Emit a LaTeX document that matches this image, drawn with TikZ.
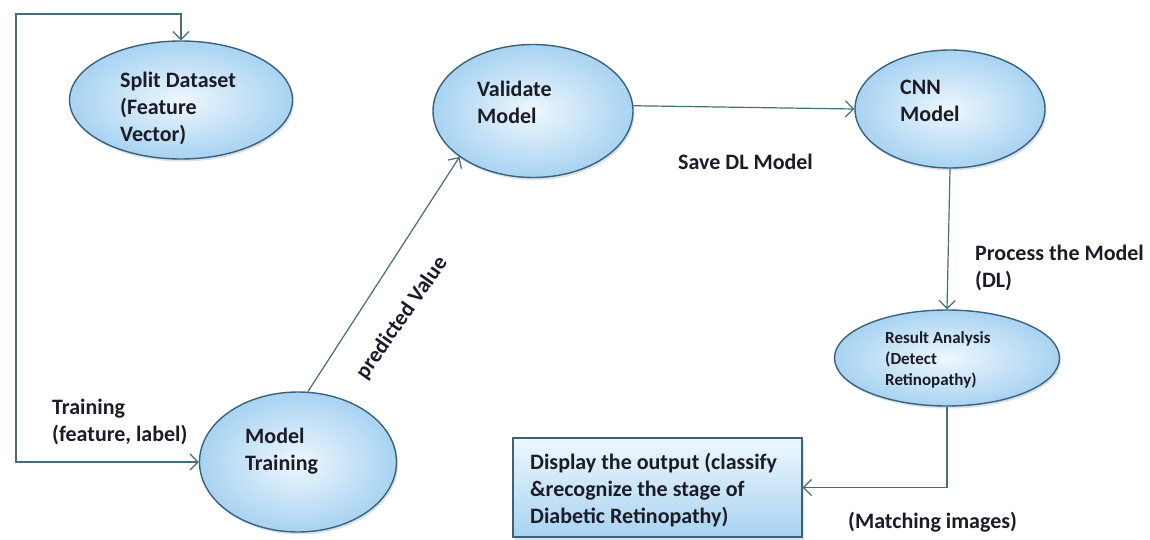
\documentclass[tikz,border=0pt]{standalone}
\usepackage{fontspec}
\setmainfont{Carlito}
\usetikzlibrary{shapes.geometric,arrows.meta,shadows}
\definecolor{edgec}{RGB}{58,98,122}
\definecolor{fillo}{RGB}{168,211,242}
\definecolor{filli}{RGB}{238,247,253}
\definecolor{linec}{RGB}{72,108,122}
\definecolor{txtc}{RGB}{28,28,40}
\begin{document}
\begin{tikzpicture}[x=1pt,y=-1pt,
  oval/.style={ellipse, draw=edgec, line width=1.4pt, inner color=filli, outer color=fillo,
    drop shadow={opacity=0.18, shadow xshift=1.5pt, shadow yshift=-2.5pt, fill=edgec}, inner sep=0pt},
  outbox/.style={rectangle, draw=edgec, line width=1.4pt, top color=filli, bottom color=fillo, inner sep=0pt,
    drop shadow={opacity=0.18, shadow xshift=1.5pt, shadow yshift=-2.5pt, fill=edgec}},
  lab/.style={font=\bfseries\fontsize{22}{27}\selectfont, text=txtc, align=left, inner sep=0pt},
  small/.style={font=\bfseries\fontsize{17}{21}\selectfont, text=txtc, align=left, inner sep=0pt},
  conn/.style={draw=linec, line width=1.2pt, -{Straight Barb[length=8pt,width=16pt,line width=1.2pt]}},
  conn2/.style={draw=linec, line width=1.2pt, {Straight Barb[length=8pt,width=16pt,line width=1.2pt]}-{Straight Barb[length=8pt,width=16pt,line width=1.2pt]}}]
\fill[white] (0,0) rectangle (1150,540);
\useasboundingbox (0,0) rectangle (1150,540);

% shapes
\node[oval, minimum width=223pt, minimum height=118pt] (split) at (181,100) {};
\node[oval, minimum width=197pt, minimum height=140pt] (mt) at (298,462) {};
\node[oval, minimum width=200pt, minimum height=133pt] (val) at (533,111) {};
\node[oval, minimum width=190pt, minimum height=118pt] (cnn) at (950,109) {};
\node[oval, minimum width=225pt, minimum height=96pt] (res) at (947,358) {};
\node[outbox, minimum width=289pt, minimum height=99pt] (out) at (657.5,487.5) {};

% texts in shapes
\node[lab, anchor=west] (tsplit) at (120,108) {Split Dataset\\(Feature\\Vector)};
\node[lab, anchor=west] (tmt) at (245,451) {Model\\Training};
\node[lab, anchor=west] (tval) at (477,102) {Validate\\Model};
\node[lab, anchor=west] (tcnn) at (900,101) {CNN\\Model};
\node[small, anchor=west] (tres) at (885,360) {Result Analysis\\(Detect\\Retinopathy)};
\node[lab, anchor=west] (tout) at (530,490) {Display the output (classify\\\&recognize the stage of\\Diabetic Retinopathy)};

% connector labels
\node[lab, anchor=west] (ltrain) at (52,422) {Training\\ (feature, label)};
\node[lab, anchor=west] (lsave) at (678,162) {Save DL Model};
\node[lab, anchor=west] (lproc) at (975,268) {Process the Model\\(DL)};
\node[lab, anchor=west] (lmatch) at (848,522) {(Matching images)};
\node[lab, rotate=55] (lpred) at (402,318) {predicted Value};

% connectors
\coordinate (ltop) at (16,14);
\draw[conn2] (split.north) |- (ltop) |- (mt.west);
\draw[conn] (mt.82) -- (val.212);
\draw[conn] (val.3) -- (cnn.west);
\draw[conn] (cnn.south) -- (res.north);
\draw[conn] (res.south) |- (out.east);
\end{tikzpicture}
\end{document}
